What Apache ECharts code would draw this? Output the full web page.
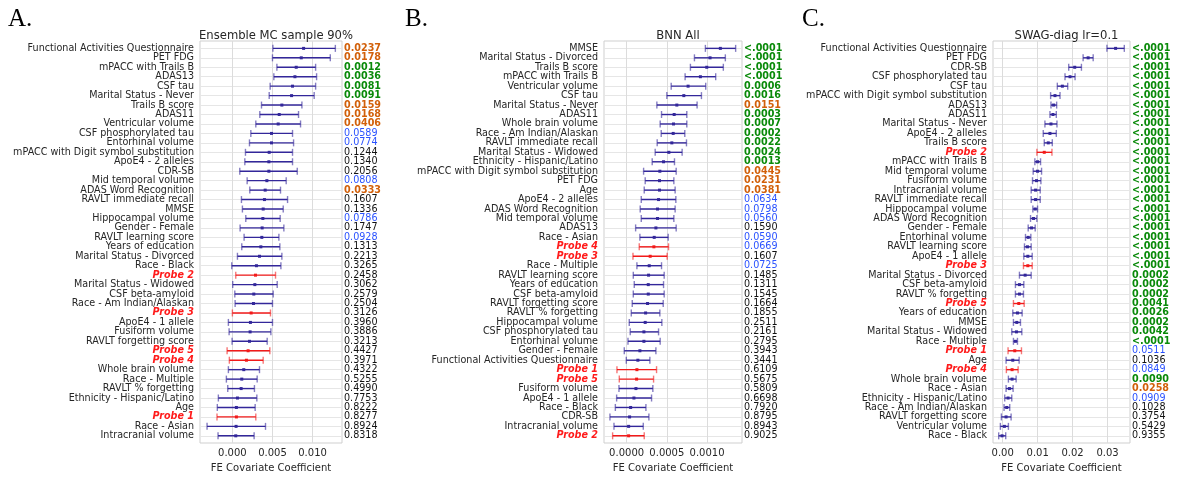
<!DOCTYPE html>
<html>
<head>
<meta charset="UTF-8">
<title>FE Covariate Coefficient</title>
<script src="https://cdn.jsdelivr.net/npm/echarts@6/dist/echarts.min.js"></script>
<style>
  html, body { margin: 0; padding: 0; background: #fff; }
  #chart { width: 1196px; height: 485px; }
</style>
</head>
<body>
<div id="chart"></div>
<script>
// ---- panel A: Ensemble MC sample 90% ----
const aLabels = ['Functional Activities Questionnaire', 'PET FDG', 'mPACC with Trails B', 'ADAS13', 'CSF tau',
  'Marital Status - Never', 'Trails B score', 'ADAS11', 'Ventricular volume', 'CSF phosphorylated tau',
  'Entorhinal volume', 'mPACC with Digit symbol substitution', 'ApoE4 - 2 alleles', 'CDR-SB', 'Mid temporal volume',
  'ADAS Word Recognition', 'RAVLT immediate recall', 'MMSE', 'Hippocampal volume', 'Gender - Female',
  'RAVLT learning score', 'Years of education', 'Marital Status - Divorced', 'Race - Black', 'Probe 2',
  'Marital Status - Widowed', 'CSF beta-amyloid', 'Race - Am Indian/Alaskan', 'Probe 3', 'ApoE4 - 1 allele',
  'Fusiform volume', 'RAVLT forgetting score', 'Probe 5', 'Probe 4', 'Whole brain volume', 'Race - Multiple',
  'RAVLT % forgetting', 'Ethnicity - Hispanic/Latino', 'Age', 'Probe 1', 'Race - Asian', 'Intracranial volume'];
const aCoef = [0.00888, 0.00859, 0.00796, 0.0078, 0.0075, 0.00738, 0.00617, 0.00584, 0.00571, 0.00488,
  0.00488, 0.00459, 0.00455, 0.00455, 0.0043, 0.00409, 0.004, 0.00384, 0.0038, 0.00371,
  0.00367, 0.00355, 0.00338, 0.003, 0.00288, 0.0028, 0.00267, 0.00263, 0.00234, 0.00225,
  0.00221, 0.00213, 0.00196, 0.00175, 0.00142, 0.00117, 0.00109, 0.00063, 0.0005, 0.0005, 0.00046, 0.00042];
const aLow = [0.00505, 0.0050, 0.00555, 0.00517, 0.00471, 0.00459, 0.00363, 0.00342, 0.00292, 0.0023,
  0.00213, 0.00163, 0.00155, 0.00092, 0.00184, 0.00217, 0.00113, 0.00125, 0.00167, 0.00096,
  0.00146, 0.00117, 0.00063, -0.00008, 0.00042, 0.00004, 0.0003, 0.00034, 0.0, -0.0005,
  -0.00041, -0.00004, -0.00066, -0.00038, -0.0005, -0.00075, -0.00058, -0.00175, -0.00188, -0.00192, -0.00316, -0.00179];
const aHigh = [0.01284, 0.01221, 0.01038, 0.0105, 0.01038, 0.0102, 0.00867, 0.00825, 0.0085, 0.0075,
  0.00763, 0.0075, 0.0075, 0.00809, 0.00671, 0.006, 0.00688, 0.00634, 0.00596, 0.00642,
  0.0058, 0.00592, 0.00617, 0.00605, 0.00538, 0.00559, 0.00509, 0.005, 0.00475, 0.005,
  0.0048, 0.00434, 0.00467, 0.00384, 0.00338, 0.00309, 0.00275, 0.00305, 0.00284, 0.00292, 0.00413, 0.00271];
const aP = ['0.0237', '0.0178', '0.0012', '0.0036', '0.0081', '0.0091', '0.0159', '0.0168', '0.0406', '0.0589',
  '0.0774', '0.1244', '0.1340', '0.2056', '0.0808', '0.0333', '0.1607', '0.1336', '0.0786', '0.1747',
  '0.0928', '0.1313', '0.2213', '0.3265', '0.2458', '0.3062', '0.2579', '0.2504', '0.3126', '0.3960',
  '0.3886', '0.3213', '0.4427', '0.3971', '0.4322', '0.5255', '0.4990', '0.7753', '0.8222', '0.8277', '0.8924', '0.8318'];
const aTicks = [0, 0.005, 0.010];

// ---- panel B: BNN All ----
const bLabels = ['MMSE', 'Marital Status - Divorced', 'Trails B score', 'mPACC with Trails B', 'Ventricular volume',
  'CSF tau', 'Marital Status - Never', 'ADAS11', 'Whole brain volume', 'Race - Am Indian/Alaskan',
  'RAVLT immediate recall', 'Marital Status - Widowed', 'Ethnicity - Hispanic/Latino', 'mPACC with Digit symbol substitution',
  'PET FDG', 'Age', 'ApoE4 - 2 alleles', 'ADAS Word Recognition', 'Mid temporal volume', 'ADAS13', 'Race - Asian',
  'Probe 4', 'Probe 3', 'Race - Multiple', 'RAVLT learning score', 'Years of education', 'CSF beta-amyloid',
  'RAVLT forgetting score', 'RAVLT % forgetting', 'Hippocampal volume', 'CSF phosphorylated tau', 'Entorhinal volume',
  'Gender - Female', 'Functional Activities Questionnaire', 'Probe 1', 'Probe 5', 'Fusiform volume', 'ApoE4 - 1 allele',
  'Race - Black', 'CDR-SB', 'Intracranial volume', 'Probe 2'];
const bCoef = [0.001165, 0.001037, 0.000996, 0.000917, 0.000764, 0.000711, 0.000624, 0.000591, 0.000583, 0.000579,
  0.000562, 0.000525, 0.000459, 0.000413, 0.000409, 0.000409, 0.000397, 0.000384, 0.000384, 0.000364,
  0.000343, 0.000339, 0.000293, 0.000281, 0.000273, 0.000269, 0.000269, 0.00026, 0.000236, 0.000231,
  0.000215, 0.000215, 0.000165, 0.00014, 0.000128, 0.000124, 0.000116, 0.000091, 0.00005, 0.000037, 0.000025, 0.000025];
const bLow = [0.000979, 0.000843, 0.000793, 0.000727, 0.000554, 0.0005, 0.000376, 0.000434, 0.000417, 0.00043,
  0.00038, 0.000355, 0.000318, 0.000211, 0.000231, 0.000219, 0.000182, 0.000169, 0.000182, 0.000112,
  0.000165, 0.000157, 0.000079, 0.000128, 0.000083, 0.000095, 0.000083, 0.00007, 0.000058, 0.000033,
  0.000045, 0.000017, -0.000029, -0.000004, -0.00012, -0.000091, -0.000095, -0.000124, -0.00014, -0.000207, -0.000157, -0.000174];
const bHigh = [0.001355, 0.001227, 0.001202, 0.001107, 0.000983, 0.00093, 0.000876, 0.000748, 0.000748, 0.000723,
  0.000744, 0.00069, 0.000595, 0.000616, 0.000587, 0.000603, 0.000612, 0.000603, 0.000587, 0.000616,
  0.000517, 0.000521, 0.000504, 0.000434, 0.000467, 0.000459, 0.000467, 0.000455, 0.000413, 0.000438,
  0.000397, 0.000417, 0.000364, 0.000289, 0.000372, 0.000335, 0.000326, 0.00031, 0.00024, 0.000277, 0.000207, 0.000219];
const bP = ['<.0001', '<.0001', '<.0001', '<.0001', '0.0006', '0.0016', '0.0151', '0.0003', '0.0007', '0.0002',
  '0.0022', '0.0024', '0.0013', '0.0445', '0.0231', '0.0381', '0.0634', '0.0798', '0.0560', '0.1590',
  '0.0590', '0.0669', '0.1607', '0.0725', '0.1485', '0.1311', '0.1545', '0.1664', '0.1855', '0.2511',
  '0.2161', '0.2795', '0.3943', '0.3441', '0.6109', '0.5675', '0.5809', '0.6698', '0.7920', '0.8795', '0.8943', '0.9025'];
const bTicks = [0, 0.0005, 0.0010];

// ---- panel C: SWAG-diag lr=0.1 ----
const cLabels = ['Functional Activities Questionnaire', 'PET FDG', 'CDR-SB', 'CSF phosphorylated tau', 'CSF tau',
  'mPACC with Digit symbol substitution', 'ADAS13', 'ADAS11', 'Marital Status - Never', 'ApoE4 - 2 alleles',
  'Trails B score', 'Probe 2', 'mPACC with Trails B', 'Mid temporal volume', 'Fusiform volume', 'Intracranial volume',
  'RAVLT immediate recall', 'Hippocampal volume', 'ADAS Word Recognition', 'Gender - Female', 'Entorhinal volume',
  'RAVLT learning score', 'ApoE4 - 1 allele', 'Probe 3', 'Marital Status - Divorced', 'CSF beta-amyloid',
  'RAVLT % forgetting', 'Probe 5', 'Years of education', 'MMSE', 'Marital Status - Widowed', 'Race - Multiple',
  'Probe 1', 'Age', 'Probe 4', 'Whole brain volume', 'Race - Asian', 'Ethnicity - Hispanic/Latino',
  'Race - Am Indian/Alaskan', 'RAVLT forgetting score', 'Ventricular volume', 'Race - Black'];
const cCoef = [0.03231, 0.02445, 0.02061, 0.01927, 0.01707, 0.01496, 0.01457, 0.01438, 0.01381, 0.01352,
  0.01304, 0.01189, 0.00997, 0.00997, 0.00968, 0.0094, 0.0094, 0.0093, 0.00882, 0.00825,
  0.00729, 0.00709, 0.00719, 0.00719, 0.00642, 0.00479, 0.00479, 0.0046, 0.00422, 0.00403,
  0.00393, 0.00364, 0.00345, 0.00288, 0.00268, 0.00268, 0.00192, 0.00153, 0.00115, 0.00096, 0.00048, -0.00019];
const cLow = [0.02982, 0.02301, 0.01889, 0.01783, 0.01563, 0.01371, 0.01381, 0.01352, 0.01208, 0.0116,
  0.01189, 0.00978, 0.0092, 0.00872, 0.00853, 0.00815, 0.00815, 0.00863, 0.00796, 0.00729,
  0.00652, 0.00623, 0.00604, 0.00594, 0.00479, 0.00364, 0.00364, 0.00307, 0.00288, 0.00307,
  0.00259, 0.00307, 0.00153, 0.00096, 0.00105, 0.00163, 0.00096, 0.00058, 0.00038, -0.00038, -0.00067, -0.00115];
const cHigh = [0.0348, 0.02589, 0.02253, 0.02071, 0.0186, 0.0164, 0.01544, 0.01534, 0.01553, 0.01534,
  0.01419, 0.01409, 0.01083, 0.01112, 0.01093, 0.01074, 0.01074, 0.00997, 0.00978, 0.0093,
  0.00805, 0.00815, 0.00844, 0.00844, 0.00815, 0.00604, 0.00594, 0.00614, 0.00556, 0.00508,
  0.00547, 0.00422, 0.00537, 0.0047, 0.00441, 0.00384, 0.00297, 0.00259, 0.00201, 0.0024, 0.00163, 0.00086];
const cP = ['<.0001', '<.0001', '<.0001', '<.0001', '<.0001', '<.0001', '<.0001', '<.0001', '<.0001', '<.0001',
  '<.0001', '<.0001', '<.0001', '<.0001', '<.0001', '<.0001', '<.0001', '<.0001', '<.0001', '<.0001',
  '<.0001', '<.0001', '<.0001', '<.0001', '0.0002', '0.0002', '0.0002', '0.0041', '0.0026', '0.0002',
  '0.0042', '<.0001', '0.0511', '0.1036', '0.0849', '0.0090', '0.0258', '0.0909', '0.1028', '0.3754', '0.5429', '0.9355'];
const cTicks = [0, 0.01, 0.02, 0.03];

const panels = [
  { letter: 'A.', title: 'Ensemble MC sample 90%', labels: aLabels, coef: aCoef, low: aLow, high: aHigh, p: aP,
    ticks: aTicks, digits: 3, xMin: -0.00404, xMax: 0.01367, left: 200, width: 142, letterX: 3 },
  { letter: 'B.', title: 'BNN All', labels: bLabels, coef: bCoef, low: bLow, high: bHigh, p: bP,
    ticks: bTicks, digits: 4, xMin: -0.000281, xMax: 0.001434, left: 604, width: 138, letterX: 400 },
  { letter: 'C.', title: 'SWAG-diag lr=0.1', labels: cLabels, coef: cCoef, low: cLow, high: cHigh, p: cP,
    ticks: cTicks, digits: 2, xMin: -0.00278, xMax: 0.03643, left: 993, width: 137, letterX: 797 }
];

const FONT = 'DejaVu Sans';
const FS = 9.6;
const rows = aLabels.map((_, i) => i);

const pColors = { g: '#0a8a0a', o: '#d2600a', b: '#2a52ff', k: '#111111' };
function pStyle(s) {
  const v = s.charAt(0) === '<' ? 0 : parseFloat(s);
  if (v < 0.01) return 'g';
  if (v < 0.05) return 'o';
  if (v < 0.1) return 'b';
  return 'k';
}

// one row: error bar + covariate name on the left + p-value on the right
function makeRender(pn) {
  return function (params, api) {
    const i = api.value(0);
    const lo = api.coord([api.value(1), i]);
    const hi = api.coord([api.value(2), i]);
    const c = api.coord([api.value(3), i]);
    const probe = api.value(4) === 1;
    const cs = params.coordSys;
    const col = probe ? '#f21a1a' : '#33279a';
    const capCol = probe ? 'rgba(242,26,26,0.6)' : 'rgba(51,39,154,0.6)';
    const cap = 3.5;
    const ps = pStyle(pn.p[i]);
    return {
      type: 'group',
      children: [
        { type: 'line', shape: { x1: lo[0], y1: lo[1], x2: hi[0], y2: hi[1] }, style: { stroke: col, lineWidth: 1.4 } },
        { type: 'line', shape: { x1: lo[0], y1: lo[1] - cap, x2: lo[0], y2: lo[1] + cap }, style: { stroke: capCol, lineWidth: 1.4 } },
        { type: 'line', shape: { x1: hi[0], y1: hi[1] - cap, x2: hi[0], y2: hi[1] + cap }, style: { stroke: capCol, lineWidth: 1.4 } },
        { type: 'rect', shape: { x: c[0] - 1.5, y: c[1] - 1.5, width: 3, height: 3 }, style: { fill: col } },
        {
          type: 'text', x: cs.x - 6, y: c[1],
          style: {
            text: pn.labels[i], align: 'right', verticalAlign: 'middle',
            fontFamily: FONT, fontSize: FS,
            fontWeight: probe ? 'bold' : 'normal', fontStyle: probe ? 'italic' : 'normal',
            fill: probe ? '#ff1a1a' : '#262626'
          }
        },
        {
          type: 'text', x: cs.x + cs.width + 2, y: c[1],
          style: {
            text: pn.p[i], align: 'left', verticalAlign: 'middle',
            fontFamily: FONT, fontSize: FS,
            fontWeight: (ps === 'g' || ps === 'o') ? 'bold' : 'normal',
            fill: pColors[ps]
          }
        }
      ]
    };
  };
}

const option = {
  backgroundColor: '#ffffff',
  animation: false,
  title: [],
  grid: [],
  xAxis: [],
  yAxis: [],
  series: []
};

panels.forEach((pn, k) => {
  option.title.push({
    text: pn.letter, left: pn.letterX, top: 2,
    textStyle: { fontFamily: 'Liberation Serif', fontSize: 25, fontWeight: 'normal', color: '#000' }
  });
  option.title.push({
    text: pn.title, left: pn.left + pn.width / 2, top: 25, textAlign: 'center',
    textStyle: { fontFamily: FONT, fontSize: 11.6, fontWeight: 'normal', color: '#262626' }
  });
  option.grid.push({
    left: pn.left, top: 41, width: pn.width, height: 402,
    show: true, borderColor: '#cfcfcf', borderWidth: 1, containLabel: false
  });
  option.xAxis.push({
    type: 'value', gridIndex: k, min: pn.xMin, max: pn.xMax,
    name: 'FE Covariate Coefficient', nameLocation: 'middle', nameGap: 20,
    nameTextStyle: { fontFamily: FONT, fontSize: 10, color: '#262626' },
    axisLine: { show: false },
    axisTick: { show: false, customValues: pn.ticks },
    axisLabel: {
      customValues: pn.ticks, margin: 5,
      fontFamily: FONT, fontSize: 10, color: '#262626',
      formatter: v => v.toFixed(pn.digits)
    },
    splitLine: { show: true, lineStyle: { color: '#dcdcdc', width: 1 } }
  });
  option.yAxis.push({
    type: 'value', gridIndex: k, min: -0.78, max: 41.76, inverse: true,
    axisLine: { show: false },
    axisTick: { show: false, customValues: rows },
    axisLabel: { show: false },
    splitLine: { show: true, lineStyle: { color: '#e6e6e6', width: 1.2 } }
  });
  option.series.push({
    type: 'custom', xAxisIndex: k, yAxisIndex: k, clip: false,
    renderItem: makeRender(pn),
    encode: { x: [1, 2, 3], y: 0 },
    data: pn.labels.map((name, i) => [i, pn.low[i], pn.high[i], pn.coef[i], name.indexOf('Probe') === 0 ? 1 : 0])
  });
});

const chart = echarts.init(document.getElementById('chart'), null, { renderer: 'canvas' });
chart.setOption(option);
</script>
</body>
</html>
